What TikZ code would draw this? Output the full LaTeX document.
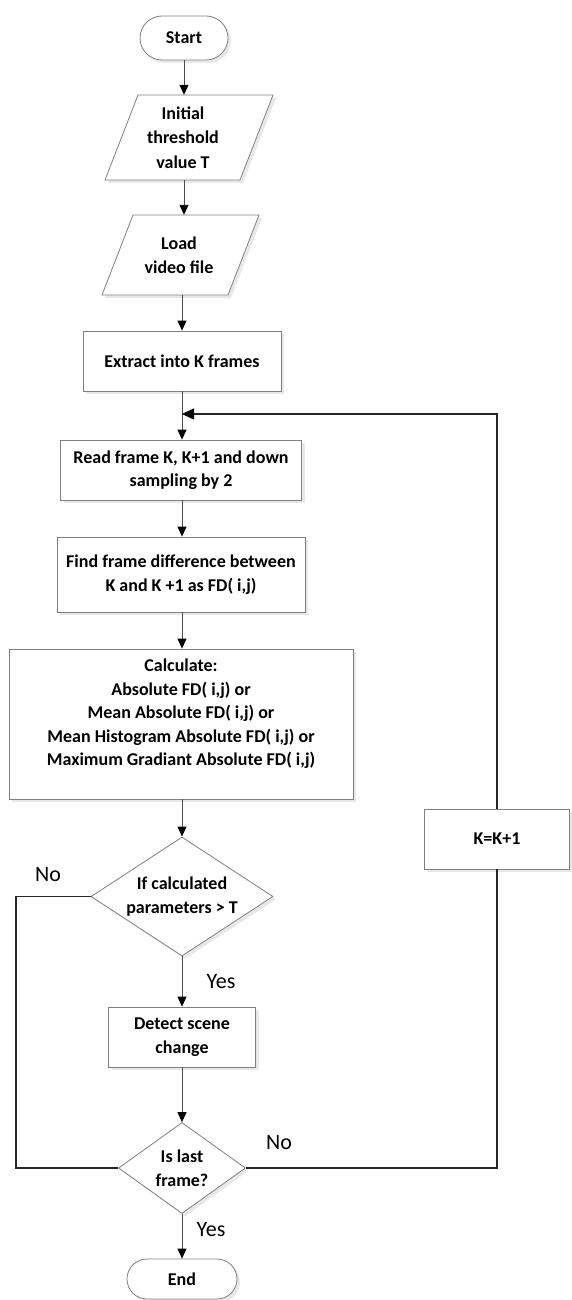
\documentclass[tikz,border=0pt]{standalone}
\usepackage{fontspec}
\setmainfont{Carlito}
\usetikzlibrary{shapes.geometric,arrows.meta,shadows}
\tikzset{
  shad/.style={drop shadow={opacity=0.18,shadow xshift=3pt,shadow yshift=-3pt}},
  box/.style={draw=black!50, line width=0.8pt, fill=white, shad, inner sep=0pt,
    font=\fontsize{18}{23.5}\selectfont\bfseries, align=center},
  dia/.style={diamond, draw=black!50, line width=0.8pt, fill=white, shad, inner sep=0pt},
  txt/.style={font=\fontsize{18}{23.5}\selectfont\bfseries, align=center, inner sep=0pt},
  lab/.style={font=\fontsize{22}{26}\selectfont, inner sep=0pt},
  arr/.style={draw=black!70, line width=0.9pt, -{Triangle[length=10pt,width=9pt,color=black]}},
  loopl/.style={draw=black!85, line width=1.5pt},
  looparr/.style={draw=black!85, line width=1.5pt, -{Triangle[length=12pt,width=11pt,color=black]}}
}
\begin{document}
\begin{tikzpicture}[x=1pt,y=-1pt]
\fill[white] (0,0) rectangle (571,1300);
\useasboundingbox (0,0) rectangle (571,1300);

% start
\node[box, rounded corners=22pt, minimum width=88pt, minimum height=44pt] (start) at (184,38) {Start};

% initial threshold (parallelogram)
\draw[box] (105,180) -- (138,95) -- (273,95) -- (240,180) -- cycle;
\node[txt, font=\fontsize{18}{24.5}\selectfont\bfseries, minimum width=130pt, minimum height=85pt] (init) at (183,137.5) {Initial\\threshold\\value T};

% load video (parallelogram)
\draw[box] (102,295) -- (133,215) -- (259,215) -- (228,295) -- cycle;
\node[txt, minimum width=120pt, minimum height=80pt] (load) at (179,255) {Load\\video file};

% process boxes
\node[box, minimum width=198pt, minimum height=60pt] (extract) at (182,361) {Extract into K frames};
\node[box, minimum width=241pt, minimum height=60pt] (read) at (181,470) {Read frame K, K+1 and down\\sampling by 2};
\node[box, minimum width=248pt, minimum height=75pt] (fd) at (181,574.5) {Find frame difference between\\K and K +1 as FD( i,j)};
\node[box, minimum width=344pt, minimum height=150pt] (calc) at (181,724) {Calculate:\\Absolute FD( i,j) or\\Mean Absolute FD( i,j) or\\Mean Histogram Absolute FD( i,j) or\\Maximum Gradiant Absolute FD( i,j)\\\mbox{}};

% decision 1
\node[dia, minimum width=182pt, minimum height=119pt] (dec1) at (182,896.5) {};
\node[txt] (dec1t) at (dec1) {If calculated\\parameters > T};

\node[box, minimum width=147pt, minimum height=60pt] (detect) at (182,1037) {Detect scene\\change};

% decision 2
\node[dia, minimum width=127pt, minimum height=91pt] (dec2) at (182,1168) {};
\node[txt] (dec2t) at (dec2) {Is last\\frame?};

% end
\node[box, rounded corners=20pt, minimum width=110pt, minimum height=40pt] (endn) at (182,1279) {End};

% counter box
\node[box, minimum width=145pt, minimum height=60pt] (kbox) at (497,839) {K=K+1};

% helper coordinates
\coordinate (join) at (182,414);
\coordinate (lc) at (16,0);

% main arrows
\draw[arr] (start.south) -- (start.south |- init.north);
\draw[arr] (start.south |- init.south) -- (start.south |- load.north);
\draw[arr] (extract.north |- load.south) -- (extract.north);
\draw[arr] (extract.south) -- (read.north -| extract.south);
\draw[arr] (read.south -| extract.south) -- (fd.north -| extract.south);
\draw[arr] (fd.south -| extract.south) -- (calc.north -| extract.south);
\draw[arr] (calc.south -| dec1.north) -- (dec1.north);
\draw[arr] (dec1.south) -- (detect.north);
\draw[arr] (detect.south) -- (dec2.north);
\draw[arr] (dec2.south) -- (endn.north);

% loops
\draw[loopl] (dec1.west) -| (lc |- dec2.west) -- (dec2.west);
\draw[loopl] (dec2.east) -| (kbox.south);
\draw[looparr] (kbox.north) |- (join);

% labels
\node[lab] (no1) at (48,875) {No};
\node[lab] (yes1) at (221,982) {Yes};
\node[lab] (no2) at (279,1143) {No};
\node[lab] (yes2) at (211,1230) {Yes};
\end{tikzpicture}
\end{document}
